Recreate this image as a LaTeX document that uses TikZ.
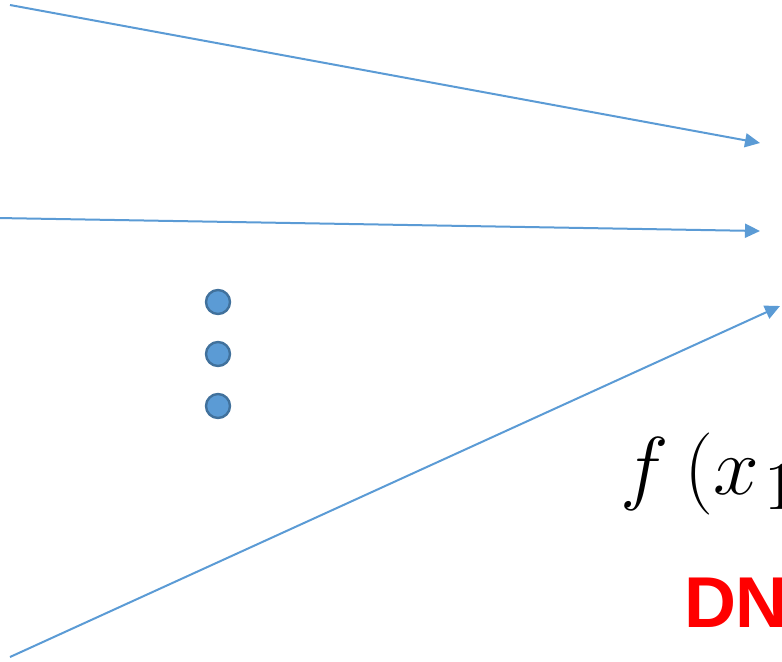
\documentclass[tikz,border=0pt]{standalone}
\usepackage{graphicx}
\usepackage{fontspec}
\newfontfamily\labelfont{Liberation Sans}
\usetikzlibrary{arrows.meta}
\definecolor{lineblue}{HTML}{5B9BD5}
\definecolor{dotedge}{HTML}{41719C}
\begin{document}
\begin{tikzpicture}[
		x=0.5pt, y=-0.5pt,
		>={Triangle[length=7.5pt,width=7pt]},
		line width=1pt,
		every node/.style={inner sep=0pt, outer sep=0pt}
		]
		
		\useasboundingbox (0,0) rectangle (782,661);
		\clip (0,0) rectangle (782,661);
		
		\path 
		(10,5) coordinate (S1)
		(760,143) coordinate (E1)
		(-2,218) coordinate (S2)
		(760,231) coordinate (E2)
		(10,657) coordinate (S3)
		(780,306) coordinate (E3)
		;
		
		\draw[lineblue, ->] (S1) -- (E1);
		\draw[lineblue, ->] (S2) -- (E2);
		\draw[lineblue, ->] (S3) -- (E3);
		
		\foreach \y/\n in {302/1, 354/2, 406/3} {
			\node[circle, minimum size=12pt, fill=lineblue, draw=dotedge, line width=1.2pt] (dot\n) at (218,\y) {};
		}
		
		\node[anchor=base west] (fx) at (620,494) {\scalebox{1.65}{\Huge$f\mkern3.5mu(x_{\mkern1.5mu1}$}};
		\node[anchor=base west, text=red, font=\labelfont\bfseries\fontsize{36}{43}\selectfont] (dnn) at (684,627) {DN};
		
	\end{tikzpicture}
\end{document}
